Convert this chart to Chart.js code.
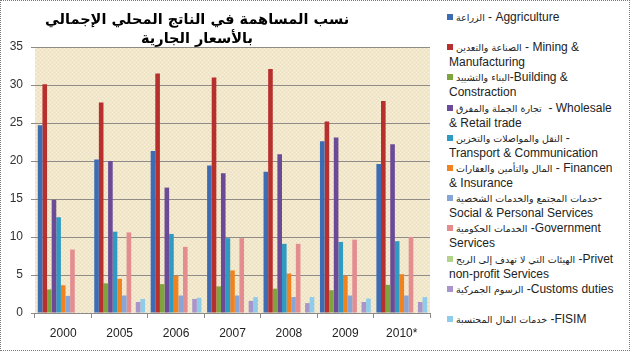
<!DOCTYPE html>
<html>
<head>
<meta charset="utf-8">
<script src="https://cdn.jsdelivr.net/npm/chart.js@4"></script>
<style>
    body { margin: 0; background: #fff; }
    #wrap { position: relative; width: 630px; height: 351px; overflow: hidden; background: #fff; }
    #chart { position: absolute; left: 0; top: 0; }
    #frame { position: absolute; left: 0; top: 0; width: 630px; height: 351px; box-sizing: border-box; border: 1px dotted #7a7a7a; pointer-events: none; }
    #title { position: absolute; left: 17px; top: 10px; width: 360px; text-align: center; direction: rtl; white-space: nowrap;
             font: bold 14.5px "DejaVu Sans", sans-serif; line-height: 19px; color: #000; }
    #legend { position: absolute; left: 449px; top: 10px; width: 181px;
              font: 12px "Liberation Sans", Arial, sans-serif; color: #222; }
    #legend .item { height: 30.2px; line-height: 15.1px; white-space: pre; }
    #legend .box { display: inline-block; width: 6px; height: 6px; margin: 0 3px 0 -2px; vertical-align: 1px; }
    #legend .ar { font-family: "DejaVu Sans", sans-serif; font-size: 9.5px; }
</style>
</head>
<body>
<div id="wrap">
    <canvas id="chart" width="440" height="351"></canvas>
    <div id="title">نسب المساهمة في الناتج المحلي الإجمالي<br>بالأسعار الجارية</div>
    <div id="legend"></div>
    <div id="frame"></div>
</div>
<script>
// Years on the category axis
const years = ['2000', '2005', '2006', '2007', '2008', '2009', '2010*'];

// Share of GDP by sector (%)
const agriculture   = [24.7, 20.2, 21.3, 19.4, 18.6, 22.6, 19.6];
const mining        = [30.1, 27.7, 31.5, 31.0, 32.1, 25.2, 27.9];
const building      = [3.1, 3.9, 3.8, 3.5, 3.2, 3.0, 3.7];
const wholesale     = [14.9, 20.0, 16.5, 18.4, 20.9, 23.1, 22.2];
const transport     = [12.6, 10.7, 10.4, 9.85, 9.1, 9.35, 9.45];
const finance       = [3.65, 4.5, 4.9, 5.6, 5.2, 4.9, 5.1];
const social        = [2.25, 2.3, 2.3, 2.3, 2.1, 2.3, 2.3];
const government    = [8.35, 10.6, 8.7, 9.85, 9.1, 9.65, 10.0];
const nonProfit     = [0, 0, 0, 0, 0, 0, 0];
const customs       = [0, 1.45, 1.85, 1.6, 1.3, 1.45, 1.45];
const fisim         = [0, 1.85, 2.0, 2.1, 2.1, 1.9, 2.1];

const yTicks = [0, 5, 10, 15, 20, 25, 30, 35];

// Legend labels: [arabic part, english part after it on line 1, second line]
const seriesLabels = [
    ['الزراعة', ' - Aggriculture', ''],
    ['الصناعة والتعدين', ' - Mining &', 'Manufacturing'],
    ['البناء والتشييد', '-Building &', 'Constraction'],
    ['تجارة الجملة والمفرق', '  - Wholesale', '& Retail trade'],
    ['النقل والمواصلات والتخزين', ' -', 'Transport & Communication'],
    ['المال والتأمين والعقارات', ' - Financen', '& Insurance'],
    ['خدمات المجتمع والخدمات الشخصية', '-', 'Social & Personal Services'],
    ['الخدمات الحكومية', ' -Government', 'Services'],
    ['الهيئات التي لا تهدف إلى الربح', ' -Privet', 'non-profit Services'],
    ['الرسوم الجمركية', ' -Customs duties', ''],
    ['خدمات المال المحتسبة', ' -FISIM', '']
];

const seriesData = [agriculture, mining, building, wholesale, transport, finance,
                    social, government, nonProfit, customs, fisim];

const seriesColors = ['#3d6cb4', '#b8302e', '#7ea43f', '#6b4b98', '#2f9bc3', '#f0821f',
                      '#88a5d8', '#e38d91', '#b2d389', '#a795cb', '#8ecdea'];

document.addEventListener('DOMContentLoaded', function() {
    const ctx = document.getElementById('chart');

    // speckled beige fill behind the plot area
    const tile = document.createElement('canvas');
    tile.width = 4;
    tile.height = 4;
    const tctx = tile.getContext('2d');
    tctx.fillStyle = '#f1e7c9';
    tctx.fillRect(0, 0, 4, 4);
    tctx.fillStyle = '#f8f2de';
    tctx.fillRect(0, 0, 1, 1);
    tctx.fillRect(2, 2, 1, 1);
    tctx.fillStyle = '#ecdcc0';
    tctx.fillRect(2, 0, 1, 1);
    tctx.fillRect(0, 2, 1, 1);

    const plotBackground = {
        id: 'plotBackground',
        beforeDraw(chart) {
            const a = chart.chartArea;
            const c = chart.ctx;
            c.save();
            c.fillStyle = c.createPattern(tile, 'repeat');
            c.fillRect(a.left, a.top, a.right - a.left, a.bottom - a.top);
            c.restore();
        }
    };

    const chart = new Chart(ctx.getContext('2d'), {
        type: 'bar',
        data: {
            labels: years,
            datasets: seriesData.map((values, i) => ({
                label: seriesLabels[i][0] + seriesLabels[i][1] + ' ' + seriesLabels[i][2],
                data: values,
                backgroundColor: seriesColors[i],
                borderWidth: 0,
                categoryPercentage: 0.9,
                barPercentage: 1.0
            }))
        },
        options: {
            responsive: false,
            animation: false,
            layout: {
                padding: { top: 47, right: 10, left: 0, bottom: 0 }
            },
            plugins: {
                legend: { display: false },
                tooltip: { enabled: false }
            },
            scales: {
                y: {
                    min: 0,
                    max: 35,
                    afterBuildTicks: (scale) => { scale.ticks = yTicks.map(v => ({ value: v })); },
                    afterFit: (scale) => { scale.width = 35; },
                    border: { display: false },
                    grid: { color: '#8f8c86', tickLength: 4, drawTicks: true },
                    ticks: {
                        padding: 8,
                        color: '#333',
                        font: { family: 'Liberation Sans', size: 12 }
                    }
                },
                x: {
                    afterFit: (scale) => { scale.height = 38; },
                    border: { display: true, color: '#8a8a8a' },
                    grid: { drawOnChartArea: false, drawTicks: true, tickLength: 5, color: '#8a8a8a' },
                    ticks: {
                        padding: 8,
                        color: '#222',
                        font: { family: 'Liberation Sans', size: 12 }
                    }
                }
            }
        },
        plugins: [plotBackground]
    });

    // Legend on the right, built from the datasets
    const legend = document.getElementById('legend');
    chart.data.datasets.forEach((ds, i) => {
        const item = document.createElement('div');
        item.className = 'item';
        const box = document.createElement('span');
        box.className = 'box';
        box.style.background = ds.backgroundColor;
        const ar = document.createElement('bdi');
        ar.className = 'ar';
        ar.textContent = seriesLabels[i][0];
        item.appendChild(box);
        item.appendChild(ar);
        item.appendChild(document.createTextNode(seriesLabels[i][1] + '\n' + seriesLabels[i][2]));
        legend.appendChild(item);
    });
});
</script>
</body>
</html>
